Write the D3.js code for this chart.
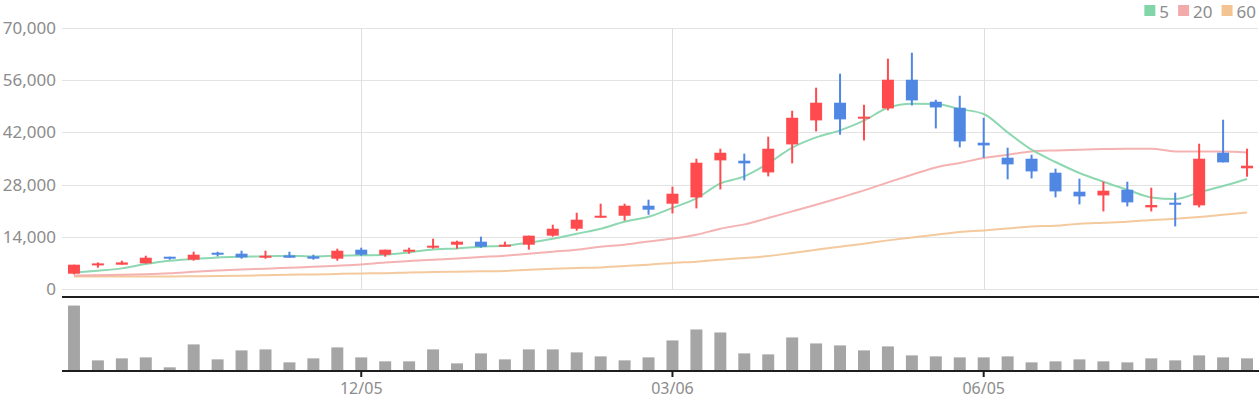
<!DOCTYPE html>
<html>
<head>
<meta charset="utf-8">
<script src="https://cdn.jsdelivr.net/npm/d3@7"></script>
<style>
  html, body { margin: 0; padding: 0; background: #fff; }
  svg { display: block; font-family: "Noto Sans", sans-serif; }
</style>
</head>
<body>
<svg id="chart" width="1260" height="400"></svg>
<script>
// ---- data (weekly candles) ----
const dates = ["2022-09-12","2022-09-19","2022-09-26","2022-10-03","2022-10-10","2022-10-17","2022-10-24","2022-10-31","2022-11-07","2022-11-14","2022-11-21","2022-11-28","2022-12-05","2022-12-12","2022-12-19","2022-12-26","2023-01-02","2023-01-09","2023-01-16","2023-01-23","2023-01-30","2023-02-06","2023-02-13","2023-02-20","2023-02-27","2023-03-06","2023-03-13","2023-03-20","2023-03-27","2023-04-03","2023-04-10","2023-04-17","2023-04-24","2023-05-01","2023-05-08","2023-05-15","2023-05-22","2023-05-29","2023-06-05","2023-06-12","2023-06-19","2023-06-26","2023-07-03","2023-07-10","2023-07-17","2023-07-24","2023-07-31","2023-08-07","2023-08-14","2023-08-21"];
const openP  = [4100,6330,6520,6870,8660,7860,9730,9470,8390,9010,8750,8130,10540,9200,10000,11080,11880,12690,11340,11880,14300,16170,19120,19650,22340,22880,24570,34500,34410,31270,38780,45220,49960,45670,48430,56130,50230,48610,39230,35210,34940,31190,26100,25100,26630,21890,23140,22430,36560,32360];
const closeP = [6520,6870,7130,8390,8130,9200,9200,8480,8930,8390,8130,10270,9200,10540,10540,11610,12690,11340,11880,14300,16170,18590,19650,22340,21270,25560,33870,36540,33690,37630,45930,49960,45490,46210,56130,50580,48700,39590,38510,33420,31540,26180,24840,26360,23230,22520,22690,34940,33960,33070];
const highP  = [6520,7130,7590,8930,8660,10000,10000,10270,10270,10000,9200,10810,11080,10540,11080,13490,12960,14030,12690,14300,17240,20460,22880,22880,23950,27440,34940,37630,36290,40850,47810,53990,57740,49410,61760,63370,50760,51830,45930,37900,36020,32270,29580,28780,28780,27170,25830,38960,45400,37630];
const lowP   = [3920,5710,6520,6870,7860,7590,8750,8130,8130,8390,7860,7590,8930,8660,9470,10810,10810,11080,11340,10540,14030,15640,19120,18320,19920,20280,21620,26710,29130,30200,33690,42270,41380,39850,47900,49230,43070,37980,35210,29400,29660,24570,22690,20810,22150,20810,16790,21890,33960,30120];
const volume = [1970000,320000,380000,410000,110000,800000,350000,620000,650000,260000,380000,710000,410000,290000,290000,650000,230000,530000,350000,650000,650000,560000,440000,320000,410000,920000,1250000,1160000,530000,500000,1010000,830000,770000,620000,740000,470000,440000,410000,410000,440000,260000,290000,350000,290000,260000,380000,320000,470000,410000,380000];
const ma5  = [4450,4910,5530,6700,7590,8050,8480,8660,8750,8930,8750,8930,9020,9200,9820,10620,10890,11340,11610,12420,13490,14830,16170,18050,19390,21750,24300,28320,30200,33690,37900,40660,42540,45140,48620,49700,49620,48260,46930,42000,37360,34060,31110,28780,26630,24570,24140,25910,27620,29500];
const ma20 = [3650,3700,3800,3950,4200,4600,4950,5250,5450,5700,5950,6250,6600,7100,7500,7860,8210,8580,8930,9470,10000,10540,11340,11880,12770,13530,14560,16170,17330,19040,20810,22610,24490,26440,28590,30650,32610,33800,35130,36020,36900,37170,37360,37550,37630,37630,36900,36900,36900,36640];
const ma60 = [3380,3380,3380,3380,3380,3420,3460,3560,3700,3850,3900,4050,4180,4250,4450,4550,4650,4750,4850,5180,5440,5620,5790,6160,6520,7000,7320,7860,8300,8840,9650,10540,11340,12150,13040,13840,14560,15290,15720,16250,16790,16980,17510,17780,18050,18500,18850,19310,19920,20540];
const yTicks = [0,14000,28000,42000,56000,70000];
const xTickDates = ["2022-12-05","2023-03-06","2023-06-05"];
const legendItems = [{name:"5", color:"#82d4a9", data: ma5}, {name:"20", color:"#f3aaaa", data: ma20}, {name:"60", color:"#f3c392", data: ma60}];

// ---- layout ----
const L = 62, R = 1259;
const priceTop = 28, priceBottom = 289;
const volTop = 299, volBottom = 371;
const UP = "#ff4b4e", DOWN = "#4f87e3";

const svg = d3.select("#chart");
const x = d3.scaleBand().domain(dates).range([L, R]).paddingInner(0.5).paddingOuter(0.25);
const y = d3.scaleLinear().domain([0, 70000]).range([priceBottom, priceTop]);
const yv = d3.scaleLinear().domain([0, d3.max(volume) * 1.1]).range([volBottom, volTop]);
const cx = d => x(d) + x.bandwidth() / 2;

// horizontal grid
svg.append("g").selectAll("line").data(yTicks).join("line")
  .attr("x1", L).attr("x2", R - 1)
  .attr("y1", d => Math.round(y(d)) + 0.5).attr("y2", d => Math.round(y(d)) + 0.5)
  .attr("stroke", "#e3e3e3").attr("stroke-width", 1);
// vertical grid
svg.append("g").selectAll("line").data(xTickDates).join("line")
  .attr("x1", d => Math.round(cx(d)) + 0.5).attr("x2", d => Math.round(cx(d)) + 0.5)
  .attr("y1", priceTop).attr("y2", priceBottom)
  .attr("stroke", "#dedede").attr("stroke-width", 1);

// y labels
const yAxis = d3.axisLeft(y).tickValues(yTicks).tickSize(0).tickPadding(6).tickFormat(d3.format(","));
const gy = svg.append("g").attr("transform", `translate(${L},0)`).call(yAxis);
gy.select(".domain").remove();
gy.selectAll("text").attr("fill", "#8c8c8c").style("font-size", "17px").style("font-family", "'Noto Sans', sans-serif");

// MA lines
const idx = dates.map((d, i) => i);
legendItems.slice().reverse().forEach(s => {
  const line = d3.line().x(i => cx(dates[i])).y(i => y(s.data[i])).curve(d3.curveMonotoneX);
  svg.append("path").datum(idx).attr("d", line)
    .attr("fill", "none").attr("stroke", s.color).attr("stroke-width", 2).attr("stroke-opacity", 0.9);
});

// candles
const candles = svg.append("g").selectAll("g").data(idx).join("g");
candles.append("rect")
  .attr("x", i => cx(dates[i]) - 1).attr("width", 2)
  .attr("y", i => y(highP[i])).attr("height", i => Math.max(1, y(lowP[i]) - y(highP[i])))
  .attr("fill", i => closeP[i] >= openP[i] ? UP : DOWN);
candles.append("rect")
  .attr("x", i => x(dates[i])).attr("width", x.bandwidth())
  .attr("y", i => y(Math.max(openP[i], closeP[i])))
  .attr("height", i => Math.max(2, Math.abs(y(openP[i]) - y(closeP[i]))))
  .attr("fill", i => closeP[i] >= openP[i] ? UP : DOWN);

// separator line
svg.append("line").attr("x1", L).attr("x2", R).attr("y1", 297).attr("y2", 297)
  .attr("stroke", "#1e1e1e").attr("stroke-width", 2);

// volume bars
svg.append("g").selectAll("rect").data(idx).join("rect")
  .attr("x", i => x(dates[i])).attr("width", x.bandwidth())
  .attr("y", i => yv(volume[i])).attr("height", i => volBottom - yv(volume[i]))
  .attr("fill", "#a5a5a5");

// bottom axis
const xAxis = d3.axisBottom(x).tickValues(xTickDates).tickSize(6).tickPadding(6)
  .tickFormat(d => d.slice(5, 7) + "/" + d.slice(8, 10));
const gx = svg.append("g").attr("transform", `translate(0,${volBottom})`).call(xAxis);
gx.select(".domain").attr("d", `M${L},0H${R}`).attr("stroke", "#1e1e1e").attr("stroke-width", 2);
gx.selectAll(".tick line").attr("stroke", "#1e1e1e").attr("stroke-width", 2);
gx.selectAll("text").attr("fill", "#8c8c8c").style("font-size", "16px").style("font-family", "'Noto Sans', sans-serif");

// legend (right aligned)
const lg = svg.append("g");
let lx = 1256;
legendItems.slice().reverse().forEach(s => {
  const t = lg.append("text").attr("x", lx).attr("y", 11).attr("text-anchor", "end")
    .attr("dominant-baseline", "central").attr("fill", "#8c8c8c").style("font-size", "17px").text(s.name);
  const w = t.node().getComputedTextLength();
  lg.append("rect").attr("x", lx - w - 15).attr("y", 5).attr("width", 11).attr("height", 11).attr("fill", s.color);
  lx = lx - w - 15 - 9;
});
</script>
</body>
</html>
